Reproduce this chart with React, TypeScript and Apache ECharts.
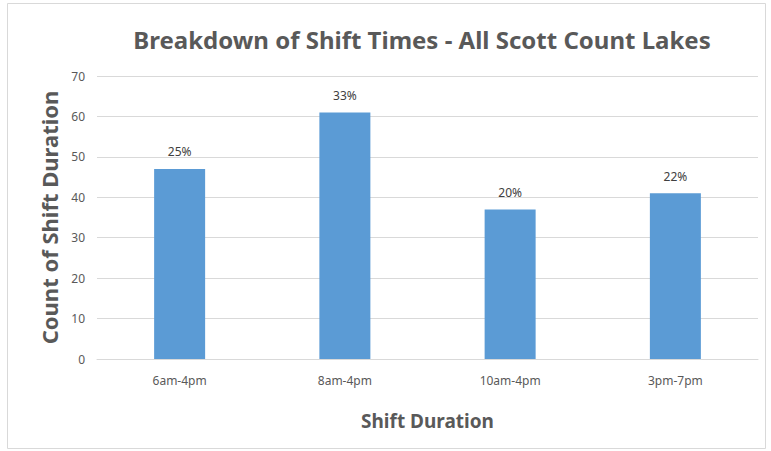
import React, { useEffect, useRef } from "react";
import * as echarts from "echarts";

// Shift windows and how many shifts fell into each one
const shiftCategories: string[] = ["6am-4pm", "8am-4pm", "10am-4pm", "3pm-7pm"];
const shiftCounts: number[] = [47, 61, 37, 41];
const yTicks = { min: 0, max: 70, interval: 10 };

const FONT = "'Noto Sans', 'Open Sans', sans-serif";
const GREY = "#595959";

export default function App() {
  const ref = useRef<HTMLDivElement>(null);

  useEffect(() => {
    if (!ref.current) return;
    const chart = echarts.init(ref.current, undefined, { renderer: "svg" });
    const total = shiftCounts.reduce((a, b) => a + b, 0);

    chart.setOption({
      animation: false,
      backgroundColor: "#ffffff",
      textStyle: { fontFamily: FONT },
      title: {
        text: "Breakdown of Shift Times - All Scott Count Lakes",
        left: 417,
        textAlign: "center",
        top: 22,
        textStyle: { fontFamily: FONT, fontSize: 24, fontWeight: "bold", color: GREY },
      },
      grid: { left: 97, right: 13, top: 76, bottom: 92 },
      xAxis: {
        type: "category",
        data: shiftCategories,
        name: "Shift Duration",
        nameLocation: "middle",
        nameGap: 52,
        nameTextStyle: { fontFamily: FONT, fontSize: 19, fontWeight: "bold", color: GREY },
        axisLine: { lineStyle: { color: "#d9d9d9" } },
        axisTick: { show: false },
        axisLabel: { color: GREY, fontSize: 12, margin: 15, fontFamily: FONT },
      },
      yAxis: {
        type: "value",
        min: yTicks.min,
        max: yTicks.max,
        interval: yTicks.interval,
        name: "Count of Shift Duration",
        nameLocation: "middle",
        nameGap: 37,
        nameTextStyle: { fontFamily: FONT, fontSize: 22, fontWeight: "bold", color: GREY },
        axisLine: { show: false },
        axisTick: { show: false },
        axisLabel: { color: GREY, fontSize: 12, margin: 12, fontFamily: FONT },
        splitLine: { lineStyle: { color: "#d9d9d9" } },
      },
      series: [
        {
          type: "bar",
          data: shiftCounts,
          barWidth: 51,
          itemStyle: { color: "#5b9bd5" },
          label: {
            show: true,
            position: "top",
            distance: 11,
            color: "#404040",
            fontSize: 12,
            fontFamily: FONT,
            formatter: (p: any) => `${Math.round((p.value / total) * 100)}%`,
          },
        },
      ],
      graphic: [
        {
          type: "rect",
          shape: { x: 7.5, y: 3.5, width: 758, height: 445 },
          style: { fill: "none", stroke: "#d9d9d9", lineWidth: 1 },
          silent: true,
        },
      ],
    });

    return () => chart.dispose();
  }, []);

  return (
    <div
      ref={ref}
      style={{ position: "fixed", left: 0, top: 0, width: 771, height: 451 }}
    />
  );
}
